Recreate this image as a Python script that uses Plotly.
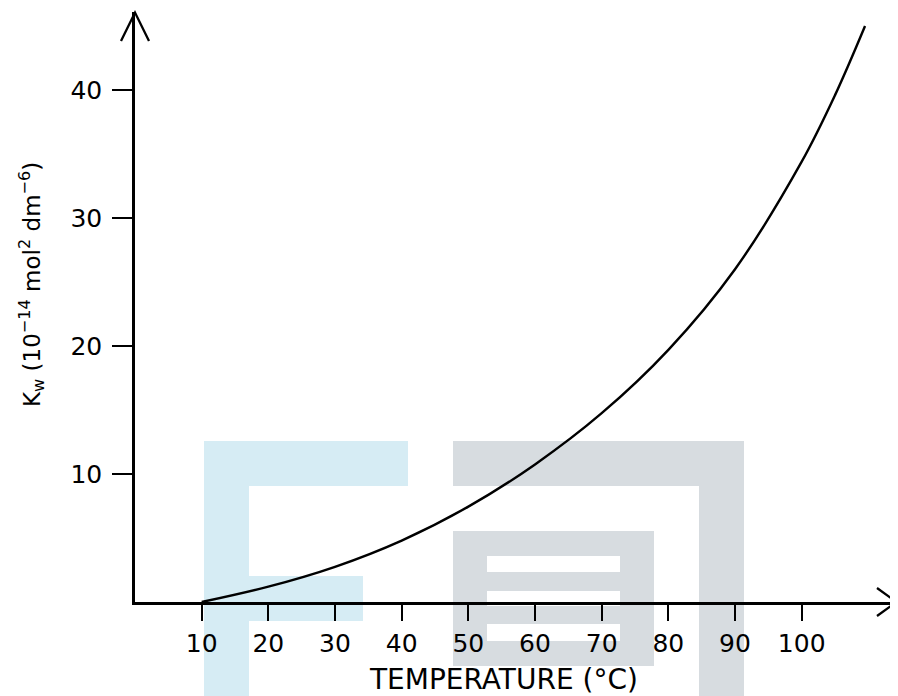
import plotly.graph_objects as go

# ---- data ----
temperature = [10, 20, 30, 40, 50, 60, 70, 80, 90, 100, 105, 109.5]
kw_values = [0.0, 1.2, 2.75, 4.8, 7.45, 10.75, 14.75, 19.7, 26.0, 34.4, 39.6, 45.0]

x_ticks = [10, 20, 30, 40, 50, 60, 70, 80, 90, 100]
y_ticks = [10, 20, 30, 40]
x_title = "TEMPERATURE (°C)"
y_title = "K<sub>w</sub> (10<sup>−14</sup> mol<sup>2</sup> dm<sup>−6</sup>)"

# ---- layout geometry (pixels in the 898x696 window) ----
OFF = 8                      # default page body margin
W, H = 898 - OFF, 696 - OFF  # figure size
L, R, T, B = 135, 897, 12, 602  # plot area edges in window pixels


def px(xp):
    return (xp - L) / (R - L)


def py(yp):
    return (B - yp) / (B - T)


FONT = "DejaVu Sans"

fig = go.Figure()
fig.add_trace(go.Scatter(
    x=temperature, y=kw_values, mode="lines",
    line=dict(color="black", width=2.4, shape="spline", smoothing=1.0),
    hoverinfo="skip", showlegend=False,
))

shapes = []

# watermark (drawn beneath everything)
BLUE = "#d6ecf4"
GRAY = "#d7dce0"
wm_rects = [
    ((204, 441, 408, 486), BLUE),
    ((204, 486, 249, 700), BLUE),
    ((249, 576, 363, 621), BLUE),
    ((453, 441, 744, 486), GRAY),
    ((699, 486, 744, 700), GRAY),
    ((453, 531, 654, 666), GRAY),
    ((487, 556, 620, 572), "white"),
    ((487, 591, 620, 606), "white"),
    ((487, 624, 620, 641), "white"),
]
for (x0, y0, x1, y1), c in wm_rects:
    shapes.append(dict(type="rect", xref="paper", yref="paper",
                       x0=px(x0), x1=px(x1), y0=py(y1), y1=py(y0),
                       fillcolor=c, line=dict(width=0), layer="below"))


# open arrowheads at the axis ends
def chevron(points):
    d = "M {} {} L {} {} L {} {}".format(*[v for p in points for v in p])
    return dict(type="path", xref="paper", yref="paper", path=d,
                line=dict(color="black", width=2.3), layer="above")


shapes.append(chevron([(px(121), py(41)), (px(135), py(12.5)), (px(149), py(41))]))
shapes.append(chevron([(px(877), py(588)), (px(896.5), py(602)), (px(877), py(616))]))

fig.update_layout(
    width=W, height=H,
    margin=dict(l=L - OFF, r=W + OFF - R, t=T - OFF, b=H + OFF - B),
    paper_bgcolor="white", plot_bgcolor="rgba(0,0,0,0)",
    shapes=shapes,
    font=dict(family=FONT, color="black"),
    xaxis=dict(
        range=[0, (R - L) / 6.667], showgrid=False, zeroline=False,
        showline=True, linecolor="black", linewidth=2.5,
        ticks="outside", ticklen=16, tickwidth=2, tickcolor="black",
        tickvals=x_ticks, ticktext=[str(v) for v in x_ticks],
        tickfont=dict(family=FONT, size=25, color="black"),
        ticklabelstandoff=1,
    ),
    yaxis=dict(
        range=[0, (B - T) / 12.8], showgrid=False, zeroline=False,
        showline=True, linecolor="black", linewidth=2.5,
        ticks="outside", ticklen=20, tickwidth=2, tickcolor="black",
        tickvals=y_ticks, ticktext=[str(v) for v in y_ticks],
        tickfont=dict(family=FONT, size=25, color="black"),
        ticklabelstandoff=5,
    ),
    annotations=[
        dict(text=x_title, xref="paper", yref="paper", x=px(503.5), y=py(679),
             showarrow=False, font=dict(family=FONT, size=28, color="black"),
             xanchor="center", yanchor="middle"),
        dict(text=y_title, xref="paper", yref="paper", x=px(31), y=py(285),
             showarrow=False, textangle=-90,
             font=dict(family=FONT, size=23, color="black"),
             xanchor="center", yanchor="middle"),
    ],
)

fig.write_html("out.html")
